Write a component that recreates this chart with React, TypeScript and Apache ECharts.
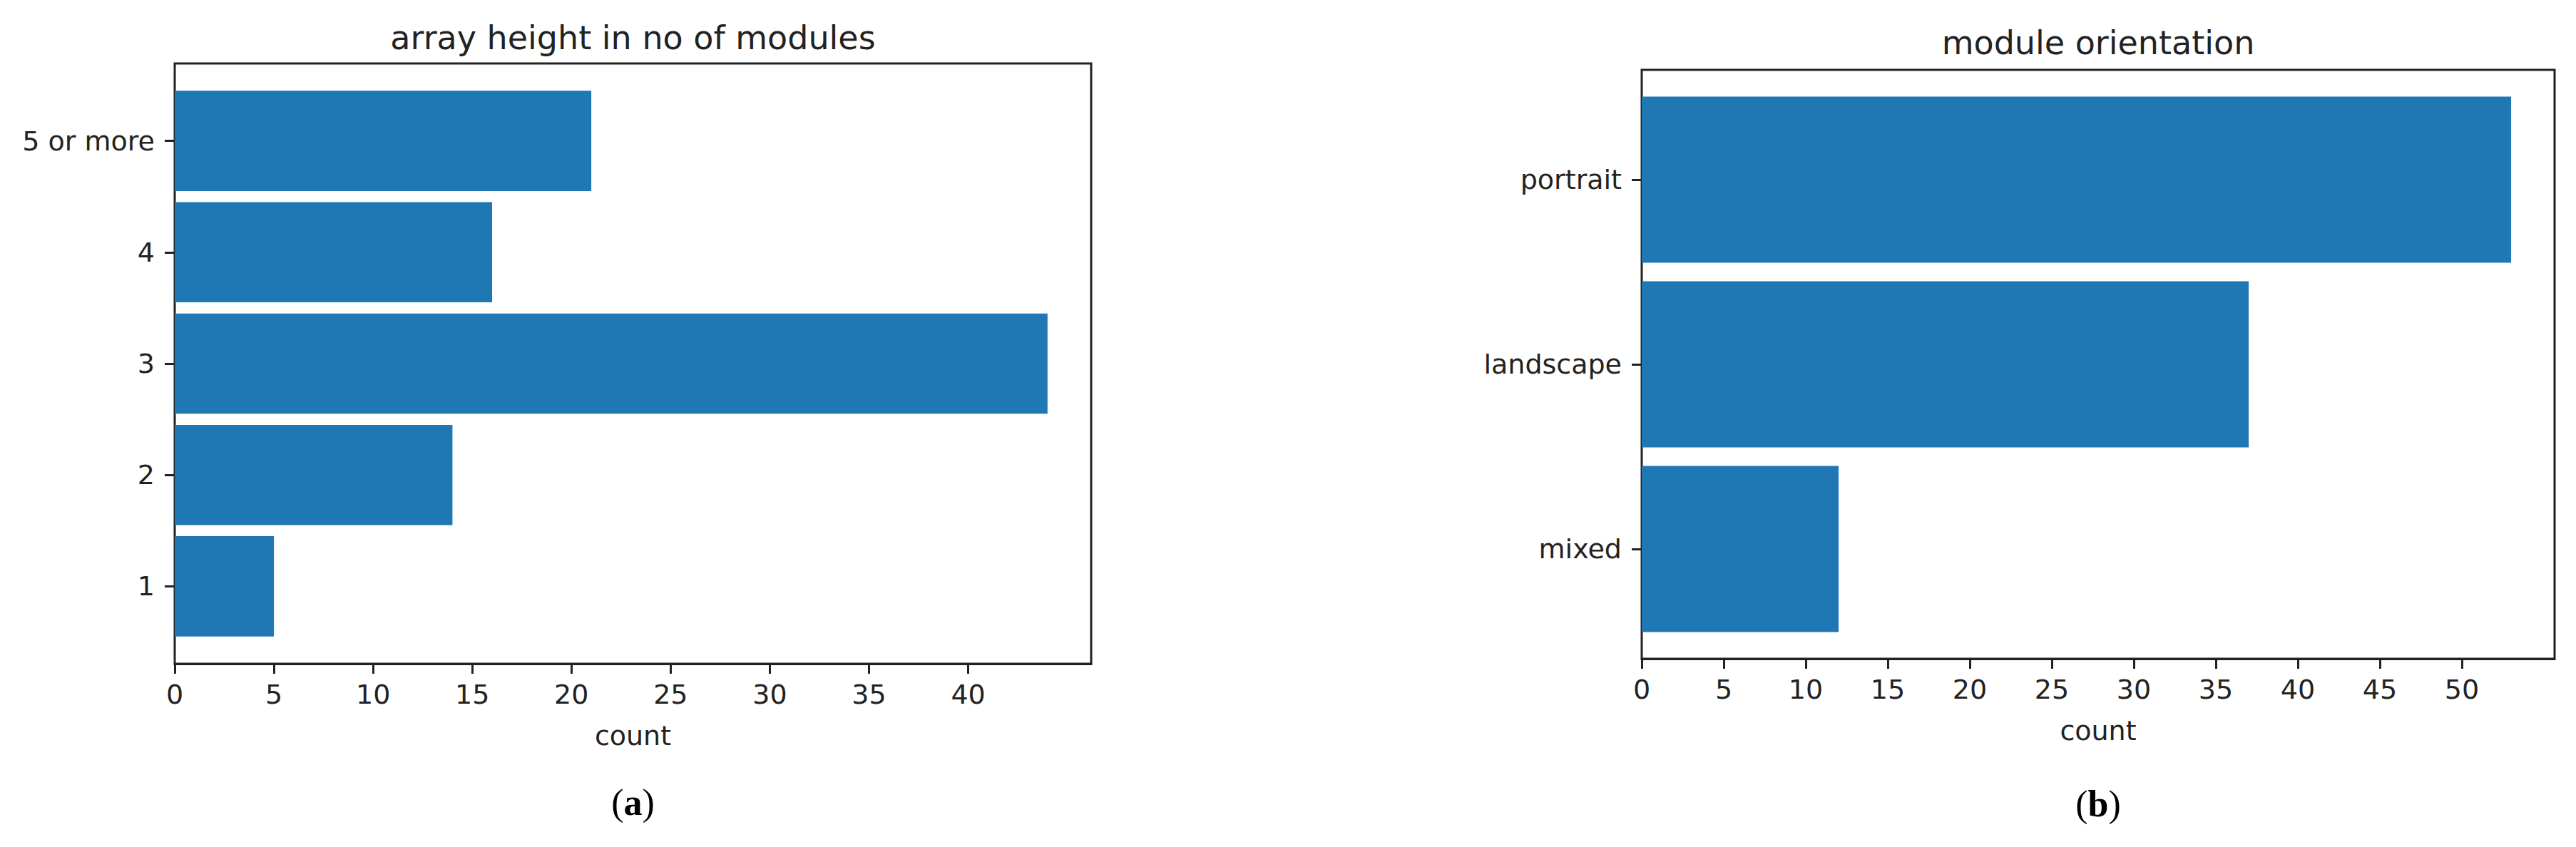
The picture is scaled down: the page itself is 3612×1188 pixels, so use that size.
import React, { useEffect, useRef } from 'react';
import * as echarts from 'echarts';

// ---- data ----
const heightCategories = ['1', '2', '3', '4', '5 or more'];
const heightCounts = [5, 14, 44, 16, 21];
const heightTicks = [0, 5, 10, 15, 20, 25, 30, 35, 40];
const heightMax = 46.2;

const orientationCategories = ['mixed', 'landscape', 'portrait'];
const orientationCounts = [12, 37, 53];
const orientationTicks = [0, 5, 10, 15, 20, 25, 30, 35, 40, 45, 50];
const orientationMax = 55.65;

const panelTitles = ['array height in no of modules', 'module orientation'];
const panelLetters = ['a', 'b'];
const xAxisName = 'count';

const FONT = 'DejaVu Sans';
const INK = '#222';
const BAR = '#1f77b4';

type Frame = { l: number; t: number; w: number; h: number; inset: number; titleY: number; letterY: number };

const frames: Frame[] = [
  { l: 245, t: 89, w: 1285, h: 842, inset: 30.5, titleY: 53, letterY: 1125 },
  { l: 2302, t: 98, w: 1280, h: 826, inset: 24.6, titleY: 60, letterY: 1127 },
];

export default function App() {
  const ref = useRef<HTMLDivElement>(null);

  useEffect(() => {
    if (!ref.current) return;
    const chart = echarts.init(ref.current, undefined, { renderer: 'svg' });

    const panels = [
      { cats: heightCategories, vals: heightCounts, ticks: heightTicks, max: heightMax },
      { cats: orientationCategories, vals: orientationCounts, ticks: orientationTicks, max: orientationMax },
    ];

    const grid: any[] = [];
    const xAxis: any[] = [];
    const yAxis: any[] = [];
    const series: any[] = [];
    const graphic: any[] = [];

    panels.forEach((p, i) => {
      const f = frames[i];
      const g0 = grid.length;
      grid.push({
        left: f.l, top: f.t, width: f.w, height: f.h,
        show: true, borderColor: INK, borderWidth: 3, backgroundColor: 'transparent',
      });
      const g1 = grid.length;
      grid.push({ left: f.l, top: f.t + f.inset, width: f.w, height: f.h - 2 * f.inset });

      const tickSet = new Set(p.ticks);
      xAxis.push({
        type: 'value', gridIndex: g0, min: 0, max: p.max, interval: 5, position: 'bottom',
        axisLine: { show: true, lineStyle: { color: INK, width: 3 } },
        axisTick: { show: true, length: 14, lineStyle: { color: INK, width: 3 }, customValues: p.ticks },
        axisLabel: {
          show: true, fontSize: 38, fontFamily: FONT, color: INK, margin: 24,
          customValues: p.ticks,
          formatter: (v: number) => (tickSet.has(v) ? String(v) : ''),
        },
        splitLine: { show: false },
        name: xAxisName, nameLocation: 'middle', nameGap: 82,
        nameTextStyle: { fontSize: 38, fontFamily: FONT, color: INK },
      });
      yAxis.push({ type: 'value', gridIndex: g0, min: 0, max: 1, show: false, splitLine: { show: false } });

      xAxis.push({ type: 'value', gridIndex: g1, min: 0, max: p.max, show: false, splitLine: { show: false } });
      yAxis.push({
        type: 'category', gridIndex: g1, data: p.cats, boundaryGap: true,
        axisLine: { show: false },
        axisTick: { show: true, alignWithLabel: true, length: 14, lineStyle: { color: INK, width: 3 } },
        axisLabel: { fontSize: 38, fontFamily: FONT, color: INK, margin: 28 },
        splitLine: { show: false },
      });

      series.push({
        type: 'bar', xAxisIndex: xAxis.length - 1, yAxisIndex: yAxis.length - 1,
        data: p.vals, barWidth: '90%', itemStyle: { color: BAR }, silent: true,
      });

      graphic.push({
        type: 'text', x: f.l + f.w / 2, y: f.titleY,
        style: { text: panelTitles[i], fontSize: 46, fontFamily: FONT, fill: INK, align: 'center', verticalAlign: 'middle' },
      });
      graphic.push({
        type: 'text', x: f.l + f.w / 2, y: f.letterY,
        style: {
          text: '{r|(}{b|' + panelLetters[i] + '}{r|)}',
          align: 'center', verticalAlign: 'middle',
          rich: {
            r: { fontSize: 52, fontFamily: 'Liberation Serif', fill: '#000' },
            b: { fontSize: 52, fontFamily: 'Liberation Serif', fontWeight: 'bold', fill: '#000' },
          },
        },
      });
    });

    chart.setOption({
      animation: false,
      backgroundColor: '#fff',
      grid, xAxis, yAxis, series, graphic,
    });

    return () => chart.dispose();
  }, []);

  return (
    <div
      ref={ref}
      style={{ position: 'absolute', left: 0, top: 0, width: 3612, height: 1188, background: '#fff' }}
    />
  );
}
